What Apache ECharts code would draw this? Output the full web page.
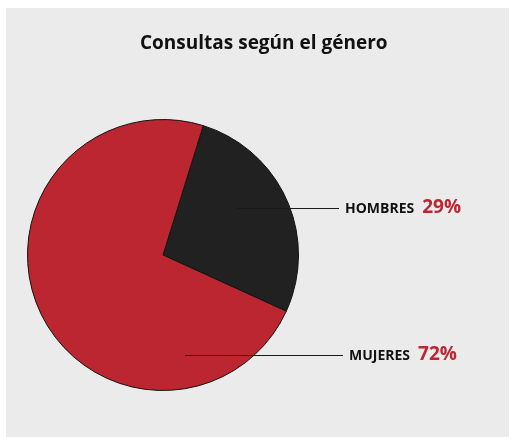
<!DOCTYPE html>
<html>
<head>
<meta charset="utf-8">
<script src="https://cdn.jsdelivr.net/npm/echarts@6/dist/echarts.min.js"></script>
<style>
  html, body { margin: 0; padding: 0; background: #fff; }
  #chart {
    position: absolute;
    left: 6px;
    top: 8px;
    width: 503px;
    height: 429px;
    background: #ebebeb;
  }
</style>
</head>
<body>
<div id="chart"></div>
<script>
// data
const categories = ['HOMBRES', 'MUJERES']
const shares = [27, 73]              // slice sizes as drawn
const shareLabels = ['29%', '72%']   // printed percentages
const sliceColors = ['#212121', '#bc2630']

// callout anchors (relative to chart div): line start, line end / text start, y
const callouts = [
  { from: 231, to: 333, y: 200 },
  { from: 179, to: 337, y: 347 }
]

const chart = echarts.init(document.getElementById('chart'))

const labelFont = 'Open Sans'

const graphics = []
callouts.forEach((c, i) => {
  graphics.push({
    type: 'line',
    z: 10,
    shape: { x1: c.from, y1: c.y + 0.5, x2: c.to, y2: c.y + 0.5 },
    style: { stroke: '#1a1a1a', lineWidth: 1 }
  })
  graphics.push({
    type: 'text',
    z: 10,
    x: c.to + 6,
    y: c.y,
    style: {
      text: '{n|' + categories[i] + '}{p|' + shareLabels[i] + '}',
      verticalAlign: 'middle',
      align: 'left',
      rich: {
        n: { fontFamily: labelFont, fontSize: 14, fontWeight: 'bold', fill: '#111', padding: [3, 0, 0, 0] },
        p: { fontFamily: labelFont, fontSize: 19, fontWeight: 'bold', fill: '#bc2630', padding: [0, 0, 0, 8] }
      }
    }
  })
})

const option = {
  animation: false,
  title: {
    text: 'Consultas según el género',
    left: 129,
    top: 21,
    textStyle: {
      fontFamily: labelFont,
      fontSize: 19,
      fontWeight: 'bold',
      color: '#111'
    }
  },
  graphic: graphics,
  series: [
    {
      type: 'pie',
      center: [157, 247],
      radius: 135.5,
      startAngle: 72.7,
      clockwise: true,
      silent: true,
      label: { show: false },
      labelLine: { show: false },
      itemStyle: {
        borderColor: '#111',
        borderWidth: 1
      },
      data: categories.map((name, i) => ({
        name: name,
        value: shares[i],
        itemStyle: { color: sliceColors[i] }
      }))
    }
  ]
}

chart.setOption(option)
</script>
</body>
</html>
